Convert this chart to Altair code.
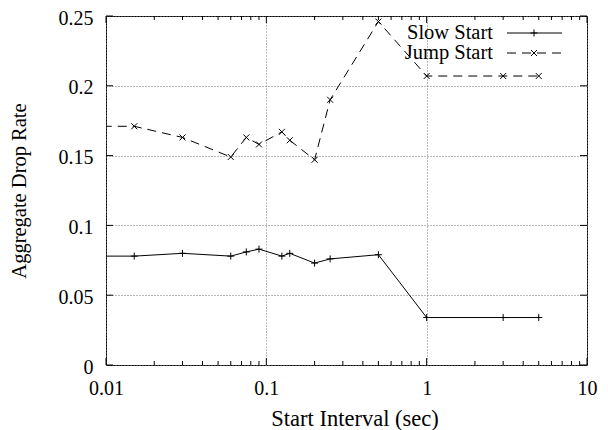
import altair as alt
import pandas as pd

# ---- data ----
interval = [0.005, 0.015, 0.03, 0.06, 0.075, 0.09, 0.125, 0.14, 0.2, 0.25, 0.5, 1, 3, 5]
slow_start = [0.078, 0.078, 0.080, 0.078, 0.081, 0.083, 0.078, 0.080, 0.073, 0.076, 0.079, 0.034, 0.034, 0.034]
jump_start = [0.171, 0.171, 0.163, 0.149, 0.163, 0.158, 0.167, 0.161, 0.147, 0.190, 0.246, 0.207, 0.207, 0.207]

x_major = [0.01, 0.1, 1, 10]
x_minor = [0.02, 0.03, 0.04, 0.05, 0.06, 0.07, 0.08, 0.09,
           0.2, 0.3, 0.4, 0.5, 0.6, 0.7, 0.8, 0.9,
           2, 3, 4, 5, 6, 7, 8, 9]
y_ticks = [0, 0.05, 0.1, 0.15, 0.2, 0.25]
series_names = ["Slow Start", "Jump Start"]

FONT = "Liberation Serif"
W, H = 481, 349
PLUS = "M-1,0L1,0M0,-1L0,1"
CROSS = "M-1,-1L1,1M-1,1L1,-1"

slow_df = pd.DataFrame({"x": interval, "y": slow_start})
jump_df = pd.DataFrame({"x": interval, "y": jump_start})
xmaj_df = pd.DataFrame({"x": x_major})
xmin_df = pd.DataFrame({"x": x_minor})
ytk_df = pd.DataFrame({"y": y_ticks})

xs = alt.Scale(type="log", domain=[0.01, 10], nice=False)
ys = alt.Scale(domain=[0, 0.25], nice=False, zero=False)

xaxis = alt.Axis(values=x_major, format="~g", grid=True, gridDash=[1, 2], gridColor="#777777",
                 ticks=False, tickSize=0, domain=False, labelFlush=False,
                 labelFont=FONT, labelFontSize=20, labelColor="black",
                 labelBaseline="middle", labelPadding=23,
                 title="Start Interval (sec)", titleFont=FONT, titleFontSize=22.5,
                 titleFontWeight="normal", titleColor="black",
                 titleX=248.5, titleY=53, titleBaseline="middle", titleAlign="center")
yaxis = alt.Axis(values=y_ticks, format="~g", grid=True, gridDash=[1, 2], gridColor="#777777",
                 ticks=False, tickSize=0, domain=False, labelFlush=False,
                 labelFont=FONT, labelFontSize=20, labelColor="black", labelPadding=13,
                 labelOffset=2,
                 title="Aggregate Drop Rate", titleFont=FONT, titleFontSize=20.5,
                 titleFontWeight="normal", titleColor="black",
                 titleX=-87, titleY=174.5, titleBaseline="middle", titleAlign="center", titleAngle=-90)

X = alt.X("x:Q", scale=xs, axis=xaxis)
Y = alt.Y("y:Q", scale=ys, axis=yaxis)

slow_line = alt.Chart(slow_df).mark_line(color="black", strokeWidth=1, clip=True).encode(x=X, y=Y)
slow_pts = alt.Chart(slow_df).mark_point(shape=PLUS, size=49, filled=False, color="black",
                                         strokeWidth=1, opacity=1, clip=True).encode(x=X, y=Y)
jump_line = alt.Chart(jump_df).mark_line(color="black", strokeWidth=1, strokeDash=[9, 6],
                                         clip=True).encode(x=X, y=Y)
jump_pts = alt.Chart(jump_df).mark_point(shape=CROSS, size=36, filled=False, color="black",
                                         strokeWidth=1, opacity=1, clip=True).encode(x=X, y=Y)

rule = dict(color="black", strokeWidth=1)
xmaj_b = alt.Chart(xmaj_df).mark_rule(**rule).encode(x=X, y=alt.value(H), y2=alt.value(H - 7))
xmaj_t = alt.Chart(xmaj_df).mark_rule(**rule).encode(x=X, y=alt.value(0), y2=alt.value(7))
xmin_b = alt.Chart(xmin_df).mark_rule(**rule).encode(x=X, y=alt.value(H), y2=alt.value(H - 4))
xmin_t = alt.Chart(xmin_df).mark_rule(**rule).encode(x=X, y=alt.value(0), y2=alt.value(4))
yt_l = alt.Chart(ytk_df).mark_rule(**rule).encode(y=Y, x=alt.value(0), x2=alt.value(7))
yt_r = alt.Chart(ytk_df).mark_rule(**rule).encode(y=Y, x=alt.value(W), x2=alt.value(W - 7))

# ---- legend (top right, inside) ----
leg_df = pd.DataFrame({"name": series_names})
leg_layers = []
for i, (name, dash, shape, sz) in enumerate([(series_names[0], [1, 0], PLUS, 49),
                                             (series_names[1], [9, 6], CROSS, 36)]):
    yy = 17 + 20 * i
    d = leg_df[leg_df["name"] == name]
    leg_layers.append(alt.Chart(d).mark_text(font=FONT, fontSize=20.5, align="right",
                                             baseline="middle", color="black").encode(
        text="name:N", x=alt.value(387), y=alt.value(yy)))
    leg_layers.append(alt.Chart(d).mark_rule(color="black", strokeWidth=1, strokeDash=dash).encode(
        x=alt.value(401), x2=alt.value(456), y=alt.value(yy)))
    leg_layers.append(alt.Chart(d).mark_point(shape=shape, size=sz, filled=False, color="black",
                                              strokeWidth=1, opacity=1).encode(
        x=alt.value(428), y=alt.value(yy)))

chart = alt.layer(slow_line, slow_pts, jump_line, jump_pts,
                  xmaj_b, xmaj_t, xmin_b, xmin_t, yt_l, yt_r, *leg_layers).properties(
    width=W, height=H,
    autosize=alt.AutoSizeParams(type="none"),
    padding={"left": 98, "top": 8, "right": 13, "bottom": 72},
    background="white",
).configure_view(stroke="black", strokeWidth=1)

chart.save("out.html", embed_options={"renderer": "svg", "actions": False})
